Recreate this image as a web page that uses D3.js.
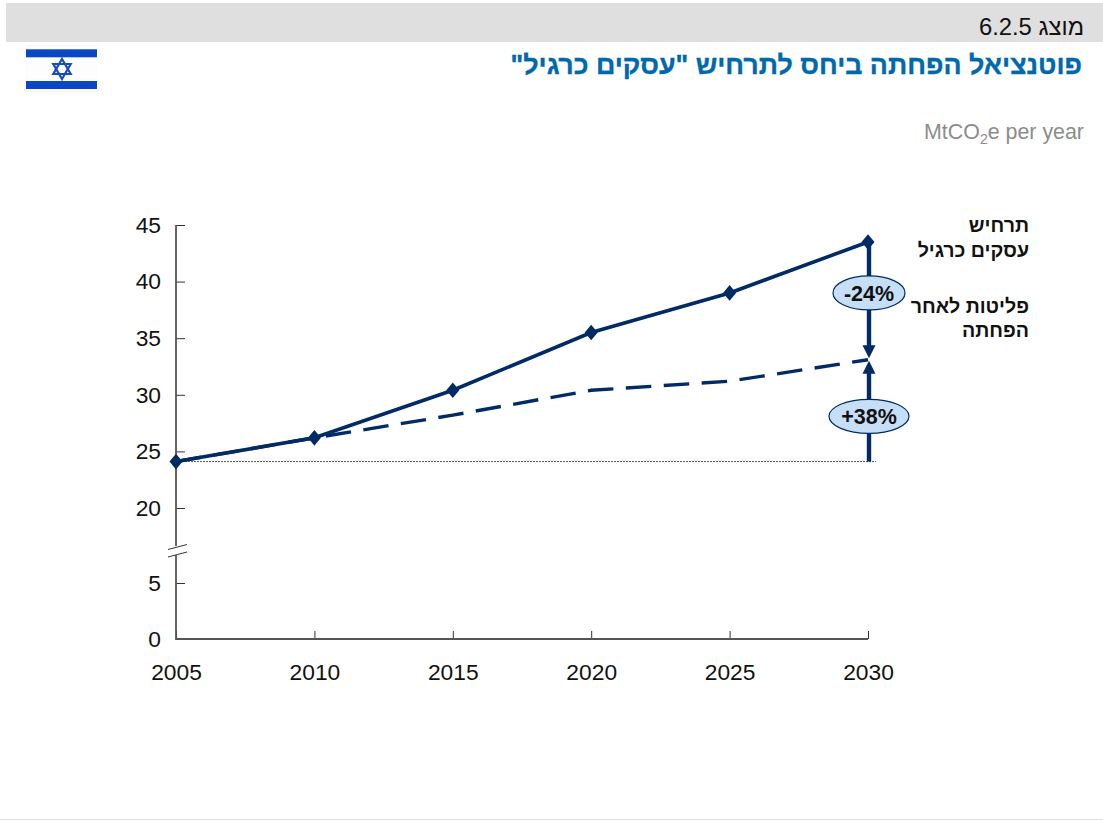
<!DOCTYPE html>
<html lang="he">
<head>
<meta charset="utf-8">
<title>פוטנציאל הפחתה</title>
<script src="https://cdnjs.cloudflare.com/ajax/libs/d3/7.9.0/d3.min.js"></script>
<style>
html,body{margin:0;padding:0;background:#fff;}
svg{display:block;font-family:"Liberation Sans",Arial,sans-serif;}
</style>
</head>
<body>
<svg id="chart" width="1103" height="820"></svg>
<script>
// Emissions in MtCO2e per year
const years = [2005, 2010, 2015, 2020, 2025, 2030];
const businessAsUsual = [24.1, 26.2, 30.4, 35.5, 39.0, 43.5];
const afterAbatement = [24.1, 26.2, 28.2, 30.4, 31.2, 33.1];
const yTicks = [0, 5, 20, 25, 30, 35, 40, 45];
const baselineValue = 24.1;
const changeBadges = [
  {label: "-24%", value: 39.0, rx: 36, ry: 17},
  {label: "+38%", value: 28.1, rx: 40, ry: 17}
];

const navy = "#002b64", axisGrey = "#555";
const svg = d3.select("#chart");

// The value axis is broken between 5 and 20, hence the piecewise range.
const x = d3.scaleLinear().domain([2005, 2030]).range([176, 868]);
const y = d3.scaleLinear().domain([0, 5, 20, 45]).range([639, 583, 508, 225]);

// Header band and rules
svg.append("rect").attr("x", 6).attr("y", 3).attr("width", 1097).attr("height", 39).attr("fill", "#dfdfdf");
svg.append("rect").attr("x", 0).attr("y", 819).attr("width", 1103).attr("height", 1).attr("fill", "#e2e2e2");

svg.append("text").attr("x", 1084).attr("y", 35).attr("text-anchor", "start").attr("direction", "rtl")
  .attr("font-size", 23.8).attr("fill", "#111").text("מוצג 6.2.5");
svg.append("text").attr("x", 1082).attr("y", 74).attr("text-anchor", "start").attr("direction", "rtl")
  .attr("font-size", 26.8).attr("font-weight", "bold").attr("fill", "#0068ad")
  .attr("stroke", "#0068ad").attr("stroke-width", 0.35)
  .text('פוטנציאל הפחתה ביחס לתרחיש "עסקים כרגיל"');

const unit = svg.append("text").attr("x", 1084).attr("y", 139).attr("text-anchor", "end")
  .attr("font-size", 21.4).attr("fill", "#8c8c8c");
unit.append("tspan").text("MtCO");
unit.append("tspan").attr("font-size", 14).attr("dy", 5).text("2");
unit.append("tspan").attr("dy", -5).text("e per year");

// Flag of Israel
const flag = svg.append("g");
flag.append("rect").attr("x", 26).attr("y", 45).attr("width", 71).attr("height", 47).attr("fill", "#f4f4f4");
flag.append("rect").attr("x", 26.5).attr("y", 46).attr("width", 70.5).attr("height", 45).attr("fill", "#fdfdfd");
flag.selectAll("rect.band").data([49.3, 81]).join("rect").attr("class", "band")
  .attr("x", 26).attr("y", d => d).attr("width", 71).attr("height", 8).attr("fill", "#0a47c4");
const star = [[0, -10], [8.7, 5], [-8.7, 5]];
[1, -1].forEach(s => flag.append("polygon")
  .attr("points", star.map(p => [62 + p[0], 69 + s * p[1]].join(",")).join(" "))
  .attr("fill", "none").attr("stroke", "#1a4dbb").attr("stroke-width", 2.2));

// Axes
const axisY = d3.axisLeft(y).tickValues(yTicks).tickSize(-8).tickPadding(15).tickFormat(d3.format("d"));
const yAxis = svg.append("g").attr("transform", "translate(176,0)").call(axisY);
yAxis.select(".domain").remove();
yAxis.selectAll(".tick line").attr("stroke", "#333").attr("x2", 9);
yAxis.selectAll("text").attr("font-size", 22.8).attr("font-family", "Liberation Sans").attr("fill", "#111");

const axisX = d3.axisBottom(x).tickValues(years).tickSize(0).tickPadding(25).tickFormat(d3.format("d"));
const xAxis = svg.append("g").attr("transform", "translate(0,639)").call(axisX);
xAxis.select(".domain").remove();
xAxis.selectAll("text").attr("font-size", 22.8).attr("font-family", "Liberation Sans").attr("fill", "#111");
xAxis.selectAll(".tick line").attr("y1", -8).attr("y2", 0).attr("stroke", "#333");

svg.append("path").attr("fill", "none").attr("stroke", axisGrey).attr("stroke-width", 1.8)
  .attr("d", `M176,225V${y(20) + 38}M176,${y(5) - 28}V639H${x(2030)}`);
// Axis break marks
[0, 7.5].forEach(dy => svg.append("line")
  .attr("x1", 168).attr("x2", 187).attr("y1", 549.5 + dy).attr("y2", 544.5 + dy)
  .attr("stroke", "#333").attr("stroke-width", 1));

// 2005 reference level
svg.append("line").attr("x1", x(2005)).attr("x2", x(2030) + 8)
  .attr("y1", y(baselineValue)).attr("y2", y(baselineValue))
  .attr("stroke", "#555").attr("stroke-width", 1).attr("stroke-dasharray", "2 1");

const line = d3.line().x((d, i) => x(years[i])).y(d => y(d));

svg.append("path").datum(afterAbatement).attr("d", line).attr("fill", "none")
  .attr("stroke", navy).attr("stroke-width", 3.4).attr("stroke-dasharray", "25.5 12.5");
svg.append("path").datum(businessAsUsual).attr("d", line).attr("fill", "none")
  .attr("stroke", navy).attr("stroke-width", 3.6);

const diamond = d3.symbol().type(d3.symbolDiamond2).size(108);
svg.selectAll("path.point").data(businessAsUsual).join("path").attr("class", "point")
  .attr("transform", (d, i) => `translate(${x(years[i])},${y(d)}) scale(1,1.2)`)
  .attr("d", diamond).attr("fill", navy);

// Arrows at 2030, each meeting the abatement endpoint from one side
const xEnd = x(2030) + 1;
const yMid = y(afterAbatement[5]);
svg.append("line").attr("x1", xEnd).attr("x2", xEnd).attr("y1", y(businessAsUsual[5])).attr("y2", yMid - 8)
  .attr("stroke", navy).attr("stroke-width", 4.4);
svg.append("line").attr("x1", xEnd).attr("x2", xEnd).attr("y1", y(baselineValue)).attr("y2", yMid + 8)
  .attr("stroke", navy).attr("stroke-width", 4.4);
[[-1, -1.5], [1, 1]].forEach(([s, gap]) => svg.append("path")
  .attr("d", `M${xEnd},${yMid + gap}l-6.5,${s * 13}h13z`).attr("fill", navy));

// Percentage badges
const badge = svg.selectAll("g.badge").data(changeBadges).join("g").attr("class", "badge")
  .attr("transform", d => `translate(${xEnd},${y(d.value)})`);
badge.append("ellipse").attr("rx", d => d.rx).attr("ry", d => d.ry)
  .attr("fill", "#c6dff7").attr("stroke", navy).attr("stroke-width", 1.2);
badge.append("text").attr("text-anchor", "middle").attr("y", 8).attr("font-size", 21.5)
  .attr("font-weight", "bold").attr("fill", "#111").text(d => d.label);

// Series labels
const seriesLabels = [
  {text: "תרחיש", y: 232}, {text: "עסקים כרגיל", y: 257},
  {text: "פליטות לאחר", y: 313}, {text: "הפחתה", y: 337}
];
svg.selectAll("text.series").data(seriesLabels).join("text").attr("class", "series")
  .attr("x", 1029).attr("y", d => d.y).attr("direction", "rtl").attr("text-anchor", "start")
  .attr("font-size", 19.6).attr("font-weight", "bold").attr("fill", "#111").text(d => d.text);
</script>
</body>
</html>
